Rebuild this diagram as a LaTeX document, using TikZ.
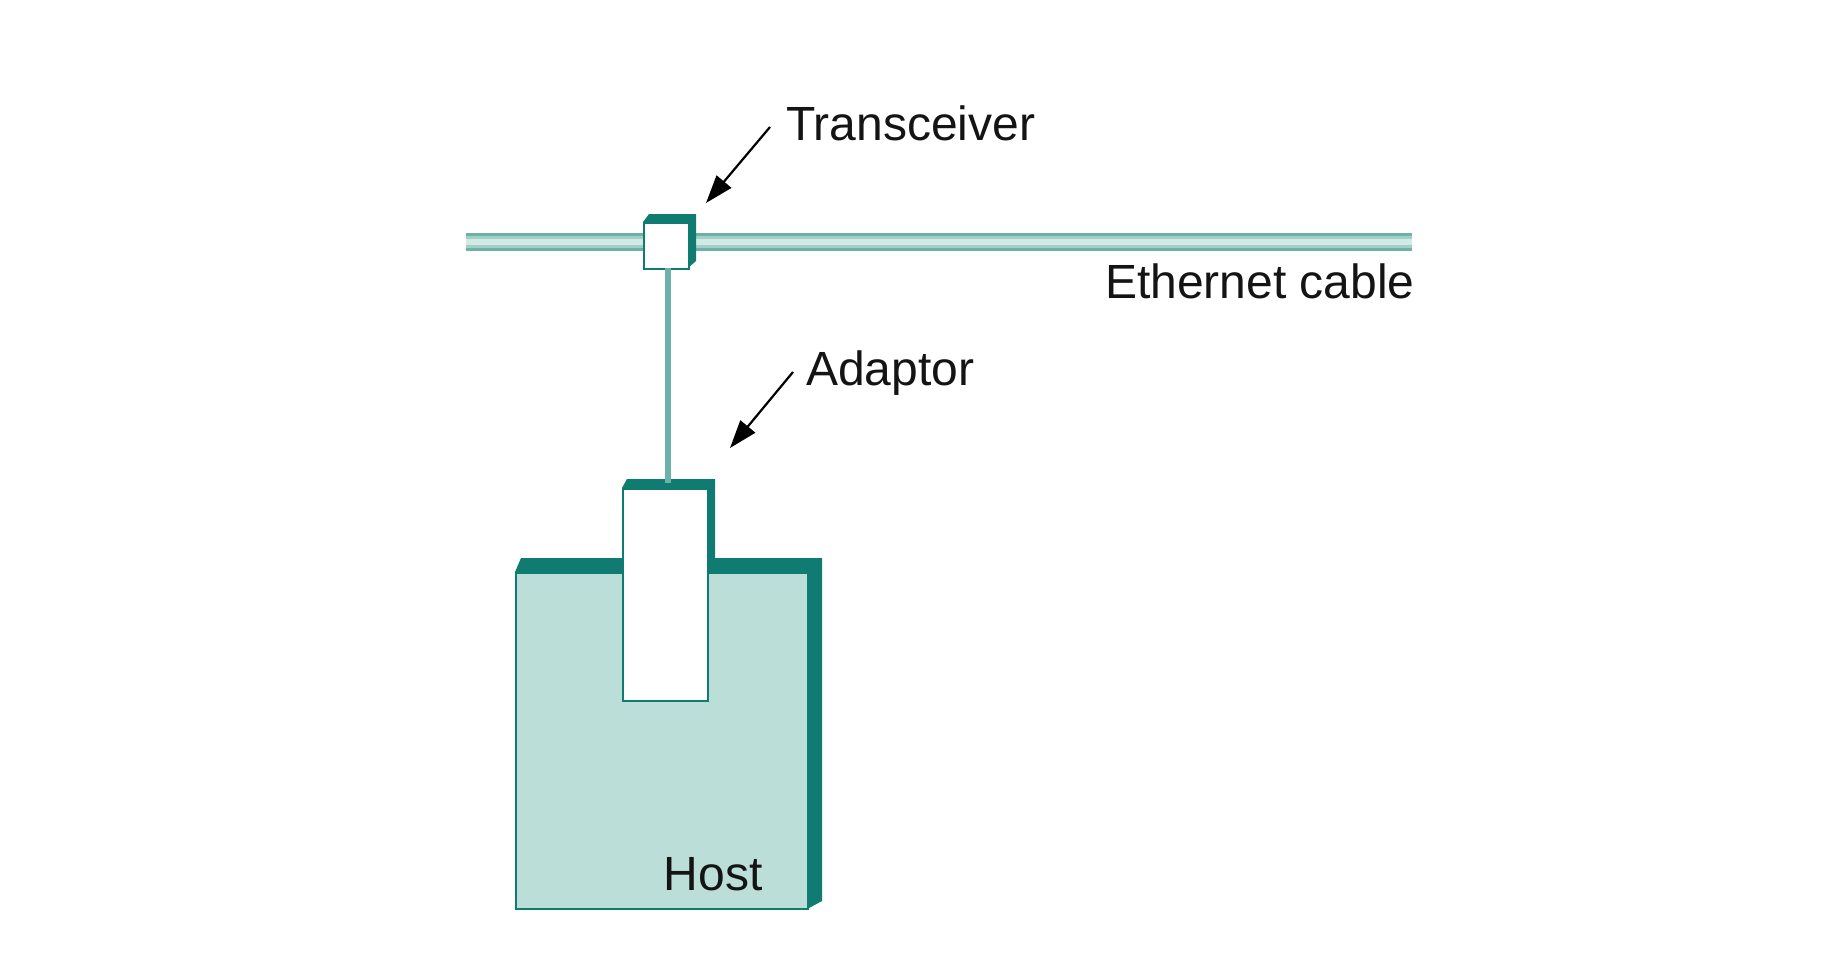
\documentclass[tikz,border=0pt]{standalone}
\usepackage{fontspec}
\setmainfont{Liberation Sans}
\usetikzlibrary{arrows.meta}
\definecolor{tealdark}{HTML}{107B71}
\definecolor{hostfill}{HTML}{BCDED8}
\definecolor{cableouter}{HTML}{6DB2A8}
\definecolor{cablemid}{HTML}{A3CFC7}
\definecolor{cablelight}{HTML}{D2EAE5}
\tikzset{
  label/.style={font=\fontsize{48}{52}\selectfont, inner sep=0pt, anchor=base west, text=black!92},
  pointer/.style={draw=black, line width=2.2pt, -{Triangle[length=28pt,width=19pt]}},
  shade3d/.style={fill=tealdark, draw=none},
  face/.style={draw=tealdark, line width=2.4pt},
}
\begin{document}
\begin{tikzpicture}[x=1pt,y=-1pt]
  \useasboundingbox (0,0) rectangle (1844,974);

  % Ethernet cable: striped bar
  \fill[cableouter] (466,233) rectangle (1412,251);
  \fill[cablemid]   (466,236) rectangle (1412,248);
  \fill[cablelight] (466,239) rectangle (1412,245);
  \node[label] (cable) at (1105,298) {Ethernet cable};

  % Transceiver clamped on the cable
  \fill[shade3d] (643,222) -- (649,214) -- (696,214) -- (696,261) -- (688,268) -- cycle;
  \node[face, fill=white, minimum width=45pt, minimum height=46pt, inner sep=0pt, anchor=north west] (xcvr) at (643,222) {};

  % Host body
  \fill[shade3d] (515,572) -- (521,558) -- (822,558) -- (822,901) -- (809,908) -- (515,908) -- cycle;
  \node[face, fill=hostfill, minimum width=292pt, minimum height=336pt, inner sep=0pt, anchor=north west] (host) at (515,572) {};

  % Adaptor card in the host
  \fill[shade3d] (622,488) -- (627,479) -- (715,479) -- (715,572) -- (707,572) -- (707,488) -- cycle;
  \node[face, fill=white, minimum width=85pt, minimum height=212pt, inner sep=0pt, anchor=north west] (adaptor) at (622,488) {};

  % Drop cable from transceiver to adaptor
  \coordinate (dropTop) at (668,268);
  \coordinate (dropEnd) at (668,483);
  \draw[cableouter, line width=6.5pt] (dropTop) -- (dropEnd);

  \node[label] (hostlbl) at (663.5,890) {Host};

  % Labels with pointers
  \node[label] (xcvrlbl) at (786,140) {Transceiver};
  \node[label] (adaptlbl) at (806,385) {Adaptor};
  \coordinate (xcvrFrom) at (770,127);
  \coordinate (xcvrTip) at (706,203);
  \coordinate (adaptFrom) at (793,372);
  \coordinate (adaptTip) at (730,448);
  \draw[pointer] (xcvrFrom) -- (xcvrTip);
  \draw[pointer] (adaptFrom) -- (adaptTip);
\end{tikzpicture}
\end{document}
